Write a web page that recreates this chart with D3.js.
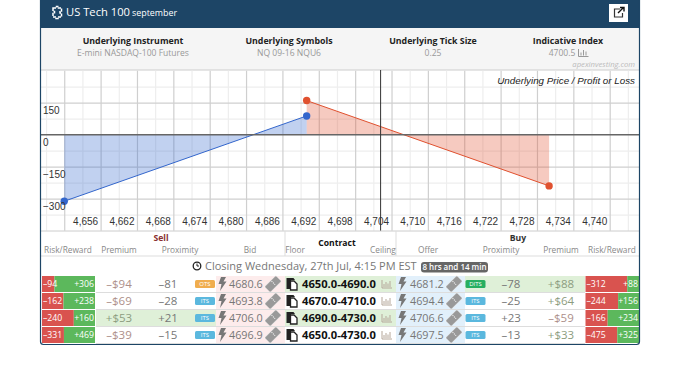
<!DOCTYPE html>
<html>
<head>
<meta charset="utf-8">
<script src="https://cdn.jsdelivr.net/npm/d3@7"></script>
<style>
  body { margin: 0; background: #fff; }
  svg { display: block; }
  text { font-family: "Open Sans", sans-serif; }
  .tick text { font-family: "Liberation Sans", Arial, sans-serif; }
</style>
</head>
<body>
<div id="chart"></div>
<script>
// chart data
var majorTicks = [4656, 4662, 4668, 4674, 4680, 4686, 4692, 4698, 4704, 4710, 4716, 4722, 4728, 4734, 4740];
var xGridMajor = [4650, 4656, 4662, 4668, 4674, 4680, 4686, 4692, 4698, 4704, 4710, 4716, 4722, 4728, 4734, 4740];
var xGridMinor = [4647, 4653, 4659, 4665, 4671, 4677, 4683, 4689, 4695, 4701, 4707, 4713, 4719, 4725, 4731, 4737, 4743];
var yTicks = [150, 0, -150, -300];
var yGridMajor = [150, -150, -300];
var yGridMinor = [225, 75, -75, -225, -375];
var buyPrices = [4650, 4690];
var buyPnl = [-312, 88];
var sellPrices = [4690, 4730];
var sellPnl = [160, -240];
var currentPrice = 4702.2;

// table data
var floors = ["4650.0", "4670.0", "4690.0", "4650.0"];
var ceilings = ["4690.0", "4710.0", "4730.0", "4730.0"];
var sellRisk = [94, 162, 240, 331];
var sellReward = [306, 238, 160, 469];
var sellPremium = ["–$94", "–$69", "+$53", "–$39"];
var sellProximity = ["–81", "–28", "+21", "–15"];
var sellBadge = ["OTS", "ITS", "ITS", "ITS"];
var bids = ["4680.6", "4693.8", "4706.0", "4696.9"];
var offers = ["4681.2", "4694.4", "4706.6", "4697.5"];
var buyBadge = ["DITS", "ITS", "ITS", "ITS"];
var buyProximity = ["–78", "–25", "+23", "–13"];
var buyPremium = ["+$88", "+$64", "–$59", "+$33"];
var buyRisk = [312, 244, 166, 475];
var buyReward = [88, 156, 234, 325];

var infoTitles = ["Underlying Instrument", "Underlying Symbols", "Underlying Tick Size", "Indicative Index"];
var infoValues = ["E-mini NASDAQ-100 Futures", "NQ 09-16 NQU6", "0.25", "4700.5"];

var navy = "#1d4566", blue = "#3366cc", red = "#e0512f";
var svg = d3.select("#chart").append("svg").attr("width", 690).attr("height", 369);

var x = d3.scaleLinear().domain([4646, 4745]).range([40, 640]);
var y = d3.scaleLinear().domain([-450, 300]).range([230.7, 70.7]);

function label(g, s, px, py, size, fill, anchor, weight) {
  return g.append("text").text(s).attr("x", px).attr("y", py).attr("dy", "0.35em")
    .attr("font-size", size).attr("fill", fill)
    .attr("text-anchor", anchor || "middle").attr("font-weight", weight || 400);
}

// header + info band
svg.append("rect").attr("x", 40).attr("y", 0).attr("width", 600).attr("height", 345).attr("fill", "#fff");
svg.append("rect").attr("x", 40).attr("y", 0).attr("width", 600).attr("height", 28).attr("fill", navy);
svg.append("rect").attr("x", 41).attr("y", 28).attr("width", 598).attr("height", 42).attr("fill", "#f5f5f5");
label(svg, "US Tech 100", 66, 12, 11.2, "#fff", "start");
label(svg, "september", 132, 13, 8.9, "#fff", "start");
// puzzle icon
svg.append("path").attr("d", "M53,8h3.5v-1.5h2v1.5h3v3h-1.5v2h1.5v4h-3.5v1.5h-2v-1.5h-3v-3.5h1.5v-2h-1.5z")
  .attr("fill", "none").attr("stroke", "#fff").attr("stroke-width", 1.5).attr("stroke-dasharray", "3,1");

// external link button
svg.append("rect").attr("x", 609).attr("y", 4).attr("width", 19).attr("height", 18).attr("fill", "#fff");
svg.append("path").attr("d", "M620,9h-5.5v8h8v-4").attr("fill", "none").attr("stroke", "#333").attr("stroke-width", 1.2);
svg.append("path").attr("d", "M618,13l5,-5M620,7.5h4v4").attr("fill", "none").attr("stroke", "#111").attr("stroke-width", 1.4);

var infoX = [133, 289, 433, 568];
infoTitles.forEach(function(t, i) {
  label(svg, t, infoX[i], 41, 8.8, "#222", "middle", 700);
  label(svg, infoValues[i], infoX[i] - (i == 3 ? 6 : 0), 53, 8.55, "#999");
});
svg.append("path").attr("d", "M578.5,49v7.5h10M581,55.5v-3M583.5,55.5v-5.5M586,55.5v-4").attr("fill", "none").attr("stroke", "#999").attr("stroke-width", 1);
label(svg, "apexinvesting.com", 635, 64.5, 7.7, "#bbb", "end").attr("font-style", "italic");
svg.append("line").attr("x1", 41).attr("x2", 639).attr("y1", 70).attr("y2", 70).attr("stroke", "#ccc");

// grid
function grid(g, axis, color, width) {
  g.call(axis);
  g.select(".domain").remove();
  g.selectAll(".tick text").remove();
  g.selectAll(".tick line").attr("stroke", color).attr("stroke-width", width);
}
svg.append("g").attr("transform", "translate(0,230.7)")
  .call(grid, d3.axisBottom(x).tickValues(xGridMinor).tickSize(-160), "#eeeeee", 1.2);
svg.append("g").attr("transform", "translate(40,0)")
  .call(grid, d3.axisRight(y).tickValues(yGridMinor).tickSize(600), "#eeeeee", 1.2);
svg.append("g").attr("transform", "translate(0,230.7)")
  .call(grid, d3.axisBottom(x).tickValues(xGridMajor).tickSize(-160), "#cfcfcf", 1.2);
svg.append("g").attr("transform", "translate(40,0)")
  .call(grid, d3.axisRight(y).tickValues(yGridMajor).tickSize(600), "#cfcfcf", 1.2);

// payoff areas
function payoff(prices, pnl, color) {
  var rows = d3.zip(prices, pnl);
  var area = d3.area().x(function(d) { return x(d[0]); }).y0(y(0)).y1(function(d) { return y(d[1]); });
  var line = d3.line().x(function(d) { return x(d[0]); }).y(function(d) { return y(d[1]); });
  svg.append("path").attr("d", area(rows)).attr("fill", color).attr("fill-opacity", 0.3);
  svg.append("path").attr("d", line(rows)).attr("fill", "none").attr("stroke", color).attr("stroke-width", 1);
  return rows;
}
var sellRows = payoff(sellPrices, sellPnl, red);
var buyRows = payoff(buyPrices, buyPnl, blue);

// zero line and current price
svg.append("line").attr("x1", 40).attr("x2", 640).attr("y1", y(0)).attr("y2", y(0)).attr("stroke", "#666").attr("stroke-width", 1.6);
svg.append("line").attr("x1", x(currentPrice)).attr("x2", x(currentPrice)).attr("y1", 70).attr("y2", 231).attr("stroke", "#333").attr("stroke-width", 1);

[[sellRows, red], [buyRows, blue]].forEach(function(s) {
  svg.selectAll(null).data(s[0]).enter().append("circle")
    .attr("cx", function(d) { return x(d[0]); })
    .attr("cy", function(d) { return y(d[1]); })
    .attr("r", 3.7).attr("fill", s[1]);
});

// axis labels
var xAxis = svg.append("g").attr("transform", "translate(0,218)")
  .call(d3.axisBottom(x).tickValues(majorTicks).tickSize(0).tickFormat(d3.format(",")));
xAxis.select(".domain").remove();
xAxis.selectAll("text").attr("y", 0).attr("dy", "0.71em").attr("text-anchor", "end").attr("dx", -3)
  .attr("font-size", 10).attr("fill", "#333");
var yAxis = svg.append("g").attr("transform", "translate(43,0)")
  .call(d3.axisRight(y).tickValues(yTicks).tickSize(0));
yAxis.select(".domain").remove();
yAxis.selectAll("text").attr("x", 0).attr("dy", "1.1em").attr("text-anchor", "start")
  .attr("font-size", 10).attr("fill", "#333");
label(svg, "Underlying Price / Profit or Loss", 635, 80.5, 9.8, "#222", "end")
  .attr("font-style", "italic").style("font-family", "'Liberation Sans', Arial, sans-serif");

// table header
svg.append("line").attr("x1", 41).attr("x2", 639).attr("y1", 231).attr("y2", 231).attr("stroke", "#ccc");
svg.append("line").attr("x1", 41).attr("x2", 639).attr("y1", 256).attr("y2", 256).attr("stroke", "#ddd");
[285, 396].forEach(function(v) {
  svg.append("line").attr("x1", v).attr("x2", v).attr("y1", 231).attr("y2", 256).attr("stroke", "#ddd");
});
label(svg, "Sell", 161, 238, 8.6, "#8a2f2f", "middle", 700);
label(svg, "Buy", 518, 238, 8.6, "#333", "middle", 700);
label(svg, "Contract", 337, 243, 8.6, "#111", "middle", 700);
var headNames = ["Risk/Reward", "Premium", "Proximity", "Bid", "Floor", "Ceiling", "Offer", "Proximity", "Premium", "Risk/Reward"];
var headX = [68, 119, 180, 250, 295, 383, 428, 501, 561, 612];
headNames.forEach(function(t, i) { label(svg, t, headX[i], 250, 8.3, "#888"); });

// closing row
svg.append("circle").attr("cx", 197).attr("cy", 266).attr("r", 3.8).attr("fill", "none").attr("stroke", "#222").attr("stroke-width", 1.3);
svg.append("path").attr("d", "M197,263.5v2.5h2").attr("fill", "none").attr("stroke", "#222");
label(svg, "Closing Wednesday, 27th Jul, 4:15 PM EST", 205, 266, 11, "#777", "start");
svg.append("rect").attr("x", 421).attr("y", 262).attr("width", 67).attr("height", 10.5).attr("rx", 3).attr("fill", "#666");
label(svg, "8 hrs and 14 min", 454.5, 267.2, 8, "#fff", "middle", 600);

// rows
var rowY = d3.scaleBand().domain(d3.range(floors.length)).range([275.5, 343.5]);
var green = "#dff0d8", badgeColor = { OTS: "#f0ad4e", ITS: "#5bb8de", DITS: "#27ae60" };
var sellHighlight = [2], buyHighlight = [0], contractHighlight = [0, 2];
var riskScale = function(total) { return d3.scaleLinear().domain([0, total]); };

function bar(left, width, risk, reward, r) {
  var total = risk + reward;
  var s = riskScale(total).range([left, left + width]);
  var top = rowY(r) + 0.5, h = rowY.bandwidth() - 1;
  svg.append("rect").attr("x", s(0)).attr("y", top).attr("width", s(risk) - s(0)).attr("height", h).attr("fill", "#d9534f");
  svg.append("rect").attr("x", s(risk)).attr("y", top).attr("width", s(total) - s(risk)).attr("height", h).attr("fill", "#5cb85c");
  label(svg, "–" + risk, left + 1, top + h / 2, 8.7, "#fff", "start");
  label(svg, "+" + reward, left + width - 1, top + h / 2, 8.7, "#fff", "end");
}
function cell(px, width, r, fill) {
  svg.append("rect").attr("x", px).attr("y", rowY(r) + 0.5).attr("width", width).attr("height", rowY.bandwidth() - 1).attr("fill", fill);
}
function badge(px, cy, name, width) {
  svg.append("rect").attr("x", px).attr("y", cy - 4).attr("width", width).attr("height", 8).attr("rx", 1.5).attr("fill", badgeColor[name]);
  label(svg, name, px + width / 2, cy, 6, "#fff");
}
function bolt(px, cy) {
  svg.append("path").attr("transform", "translate(" + px + "," + cy + ")")
    .attr("d", "M-1,-7h5l-2.5,4.5h3l-6.5,9.5l1.5,-7h-3z").attr("fill", "#777");
}
function ticket(px, cy) {
  svg.append("rect").attr("transform", "translate(" + px + "," + cy + ") rotate(-45)")
    .attr("x", -8).attr("y", -4).attr("width", 16).attr("height", 8).attr("rx", 1)
    .attr("fill", "#999").attr("stroke", "#fff").attr("stroke-width", 0.5);
  svg.append("line").attr("transform", "translate(" + px + "," + cy + ") rotate(-45)")
    .attr("x1", 1).attr("x2", 1).attr("y1", -3).attr("y2", 3).attr("stroke", "#fff").attr("stroke-dasharray", "1,1");
}
function copyIcon(px, cy) {
  svg.append("path").attr("transform", "translate(" + px + "," + cy + ")")
    .attr("d", "M-5.5,-6h7l1.5,2h-4v9h-4.5z").attr("fill", "#222");
  svg.append("path").attr("transform", "translate(" + px + "," + cy + ")")
    .attr("d", "M-1.5,-3h3.5l3,3v6h-6.5z").attr("fill", "#fff").attr("stroke", "#222").attr("stroke-width", 1.3);
}
function barsIcon(px, cy) {
  svg.append("path").attr("transform", "translate(" + px + "," + cy + ")")
    .attr("d", "M-5,-4v8h10M-3,3v-3M-1,3v-5M1,3v-3.5M3,3v-6").attr("fill", "none").attr("stroke", "#b5a79a").attr("stroke-width", 1);
}

floors.forEach(function(f, r) {
  var cy = rowY(r) + rowY.bandwidth() / 2;
  cell(96, 120, r, sellHighlight.indexOf(r) >= 0 ? green : "#fff");
  cell(216, 69, r, "#fdecec");
  cell(285, 111, r, contractHighlight.indexOf(r) >= 0 ? green : "#fff");
  cell(396, 69, r, "#e2f0fb");
  cell(465, 120, r, buyHighlight.indexOf(r) >= 0 ? green : "#fff");

  bar(42, 53, sellRisk[r], sellReward[r], r);
  bar(585.5, 53.5, buyRisk[r], buyReward[r], r);

  var premColor = function(s) { return s.charAt(0) == "+" ? "#8c9c80" : "#ad8f8a"; };
  label(svg, sellPremium[r], 119, cy, 11.5, premColor(sellPremium[r]));
  label(svg, sellProximity[r], 168, cy, 11.5, "#777");
  badge(195, cy, sellBadge[r], 20);

  bolt(222, cy);
  label(svg, bids[r], 229, cy, 10.8, "#777", "start");
  ticket(273, cy);

  copyIcon(292, cy);
  label(svg, f + "-" + ceilings[r], 302, cy, 11.2, "#111", "start", 700);
  barsIcon(387, cy);

  bolt(402, cy);
  label(svg, offers[r], 410, cy, 10.8, "#777", "start");
  ticket(454, cy);

  badge(465.5, cy, buyBadge[r], 20);
  label(svg, buyProximity[r], 511, cy, 11.5, "#777");
  label(svg, buyPremium[r], 561, cy, 11.5, premColor(buyPremium[r]));

  svg.append("line").attr("x1", 96).attr("x2", 585).attr("y1", rowY(r) + rowY.bandwidth()).attr("y2", rowY(r) + rowY.bandwidth()).attr("stroke", "#ddd");
});

// panel border
svg.append("path").attr("d", "M40.5,0V341.5a3,3 0 0 0 3,3H636.5a3,3 0 0 0 3,-3V0")
  .attr("fill", "none").attr("stroke", navy).attr("stroke-width", 1.2);
</script>
</body>
</html>
